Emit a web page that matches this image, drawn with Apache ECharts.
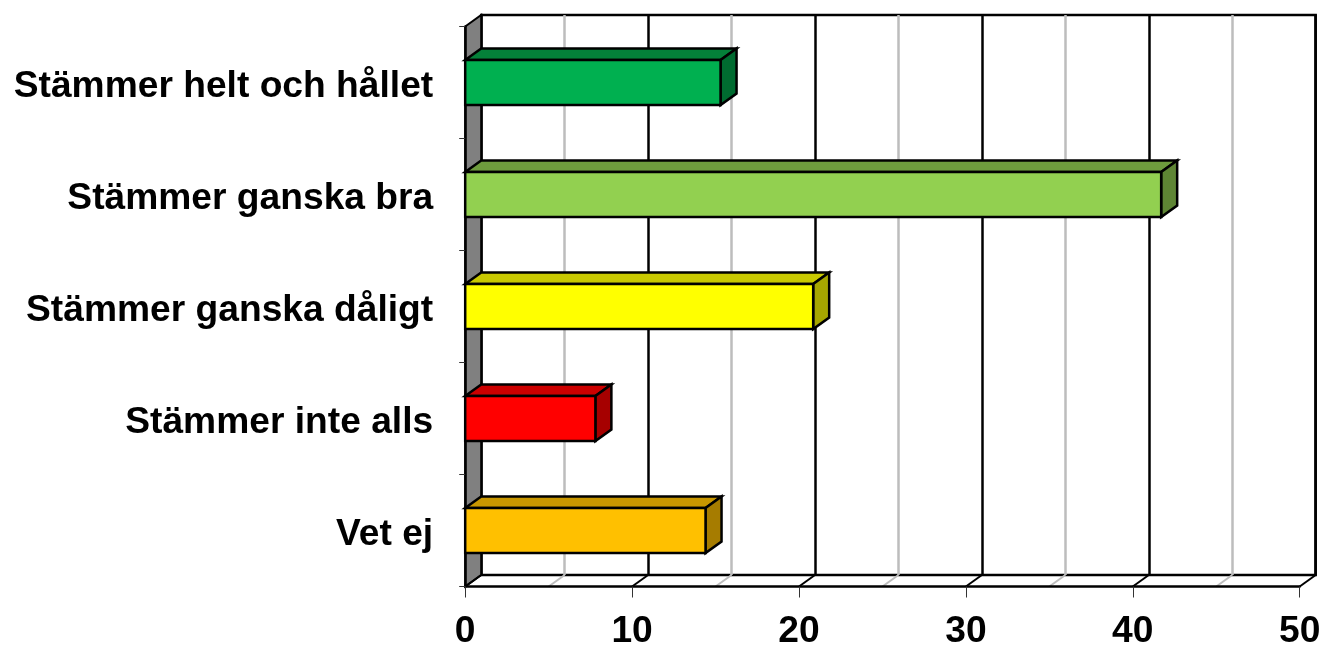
<!DOCTYPE html>
<html><head><meta charset="utf-8">
<style>html,body{margin:0;padding:0;background:#fff}#c{width:1323px;height:645px}</style>
<script src="https://cdn.jsdelivr.net/npm/echarts@6/dist/echarts.min.js"></script>
</head><body><div id="c"></div>
<script>
const categories = ['Stämmer helt och hållet','Stämmer ganska bra','Stämmer ganska dåligt','Stämmer inte alls','Vet ej'];
const values = [15.3, 41.7, 20.85, 7.8, 14.4];
const faceColors = ['#00B050','#92D050','#FFFF00','#FF0000','#FFC000'];
const topColors = ['#048039','#6E9C3D','#C9C900','#CC0000','#C99700'];
const sideColors = ['#006B30','#5E8534','#A6A600','#A60000','#A67C00'];
const floorTicks = [0,5,10,15,20,25,30,35,40,45,50];

const DX = 16, DY = 11.5, L = 465.2, T = 26.5, W = 834.5, H = 560, BAR_H = 45;
const chart = echarts.init(document.getElementById('c'));

function barItem(params, api){
  const i = params.dataIndex;
  const p = api.coord([api.value(0), i]);
  const o = api.coord([0, i]);
  const y0 = p[1] - BAR_H/2, y1 = p[1] + BAR_H/2, x0 = o[0], x1 = p[0];
  const st = {stroke:'#000', lineWidth:2.5, lineJoin:'miter'};
  return {type:'group', children:[
    {type:'polygon', shape:{points:[[x0,y0],[x1,y0],[x1+DX,y0-DY],[x0+DX,y0-DY]]}, style:{...st, fill:topColors[i]}},
    {type:'polygon', shape:{points:[[x1,y0],[x1+DX,y0-DY],[x1+DX,y1-DY],[x1,y1]]}, style:{...st, fill:sideColors[i]}},
    {type:'rect', shape:{x:x0,y:y0,width:x1-x0,height:y1-y0}, style:{...st, fill:faceColors[i]}}
  ]};
}
function floorItem(params, api){
  const v = api.value(0);
  const cs = params.coordSys;
  const x = api.coord([v, 0])[0], y = cs.y + cs.height;
  const major = v % 10 === 0;
  return {type:'line', shape:{x1:x,y1:y,x2:x+DX,y2:y-DY},
    style:{stroke: major ? '#000' : '#BDBDBD', lineWidth:2}};
}
function wallItem(params, api){
  const cs = params.coordSys;
  const x = api.coord([api.value(0), 0])[0], t = cs.y, b = cs.y + cs.height;
  return {type:'polygon', shape:{points:[[x,t],[x+DX,t-DY],[x+DX,b-DY],[x,b]]},
    style:{fill:'#808080', stroke:'#000', lineWidth:2}};
}

chart.setOption({
  animation:false,
  backgroundColor:'#fff',
  grid:[
    {left:L, top:T, width:W, height:H, containLabel:false, outerBoundsMode:'none'},
    {left:L+DX, top:T-DY, width:W, height:H, show:true, borderColor:'#000', borderWidth:2.5, backgroundColor:'transparent', z:0, outerBoundsMode:'none'}
  ],
  xAxis:[
    {type:'value', gridIndex:0, min:0, max:50, interval:10, z:3,
     axisLine:{show:true, onZero:false, lineStyle:{color:'#000', width:2.5}},
     axisTick:{show:true, length:11, lineStyle:{color:'#333', width:1}},
     splitLine:{show:false},
     axisLabel:{show:true, margin:27, color:'#000', fontFamily:'Liberation Sans', fontWeight:'bold', fontSize:37.2, showMinLabel:true, showMaxLabel:true, hideOverlap:false}},
    {type:'value', gridIndex:1, min:0, max:50, interval:10, z:1,
     axisLine:{show:false}, axisTick:{show:false}, axisLabel:{show:false},
     minorTick:{show:false, splitNumber:2},
     splitLine:{show:true, lineStyle:{color:'#000', width:2.5}},
     minorSplitLine:{show:true, lineStyle:{color:'#BDBDBD', width:2.5}}}
  ],
  yAxis:[
    {type:'category', gridIndex:0, data:categories, inverse:true, z:3,
     axisLine:{show:true, onZero:false, lineStyle:{color:'#000', width:2.5}},
     axisTick:{show:true, length:6, alignWithLabel:false, lineStyle:{color:'#333', width:1}},
     splitLine:{show:false},
     axisLabel:{show:true, margin:32, color:'#000', fontFamily:'Liberation Sans', fontWeight:'bold', fontSize:37.2, interval:0, verticalAlign:'top', lineHeight:8}},
    {type:'category', gridIndex:1, data:categories, inverse:true,
     axisLine:{show:false}, axisTick:{show:false}, axisLabel:{show:false}, splitLine:{show:false}}
  ],
  series:[
    {type:'custom', name:'wall', xAxisIndex:0, yAxisIndex:0, z:2, silent:true, clip:false, data:[[0]], renderItem:wallItem, encode:{x:0}},
    {type:'custom', name:'floor', xAxisIndex:0, yAxisIndex:0, z:2, silent:true, clip:false, data:floorTicks.map(v=>[v]), renderItem:floorItem, encode:{x:0}},
    {type:'custom', name:'bars', xAxisIndex:0, yAxisIndex:0, z:5, clip:false, data:values.map(v=>[v]), renderItem:barItem, encode:{x:0}}
  ]
});
</script></body></html>
